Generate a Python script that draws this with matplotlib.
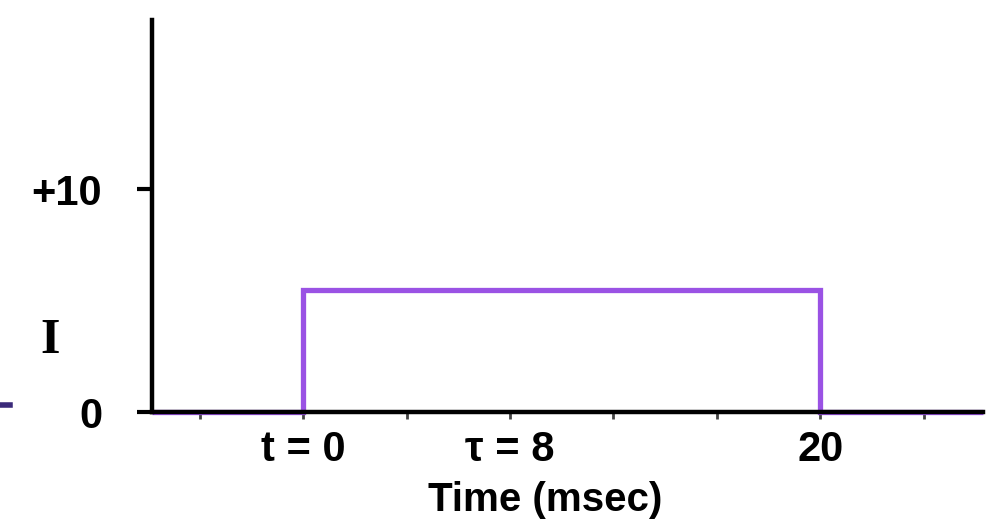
import matplotlib
matplotlib.use('Agg')
import matplotlib.pyplot as plt
from matplotlib.lines import Line2D

# stimulus current step (msec, arbitrary units)
t_points = [-5.85, 0, 0, 20, 20, 26.3]
i_points = [0, 0, 5.5, 5.5, 0, 0]
x_ticks = [-4, 0, 4, 8, 12, 16, 20, 24]
x_tick_labels = ['', 't = 0', '', 'τ = 8', '', '', '20', '']
y_ticks = [0, 10]
y_tick_labels = ['0', '+10']

SANS = ['Liberation Sans Narrow', 'Liberation Sans', 'DejaVu Sans']
PURPLE = '#9a52e4'

W, H = 997, 519
fig = plt.figure(figsize=(W/100, H/100), dpi=100)
ax = fig.add_axes([152/W, 1-412/H, (983-152)/W, (412-20)/H])

ax.plot(t_points, i_points, color=PURPLE, linewidth=3.8, solid_joinstyle='miter',
        solid_capstyle='butt', clip_on=False, zorder=2)

ax.set_xlim(t_points[0], t_points[-1])
ax.set_ylim(0, 17.6)
for s in ['top', 'right']:
    ax.spines[s].set_visible(False)
for s in ['left', 'bottom']:
    ax.spines[s].set_linewidth(3.2)
    ax.spines[s].set_color('black')
    ax.spines[s].set_zorder(3)

ax.set_xticks(x_ticks)
ax.set_xticklabels(x_tick_labels, fontfamily=SANS, fontweight='bold', fontsize=30)
ax.tick_params(axis='x', direction='out', length=5, width=2, color='#444444', pad=8)
ax.set_yticks(y_ticks)
ax.set_yticklabels(y_tick_labels, fontfamily=SANS, fontweight='bold', fontsize=30)
ax.tick_params(axis='y', direction='out', length=11, width=3, color='black', pad=25)

ax.set_xlabel('Time (msec)', fontfamily=SANS, fontweight='bold', fontsize=29)
ax.xaxis.set_label_coords((545-152)/(983-152), -(481-412)/(412-20))
ax.xaxis.label.set_va('top')

ax.set_ylabel('I', rotation=0, fontfamily=['Liberation Serif', 'DejaVu Serif'],
              fontweight='bold', fontsize=36)
ax.yaxis.set_label_coords((50-152)/(983-152), (412-341)/(412-20))
ax.yaxis.label.set_va('center')

# stray trace fragment at the left edge
fig.add_artist(Line2D([0, 10/W], [1-405/H, 1-405/H], color='#3b2a7a', linewidth=4))

fig.savefig('out.png', dpi=100)
